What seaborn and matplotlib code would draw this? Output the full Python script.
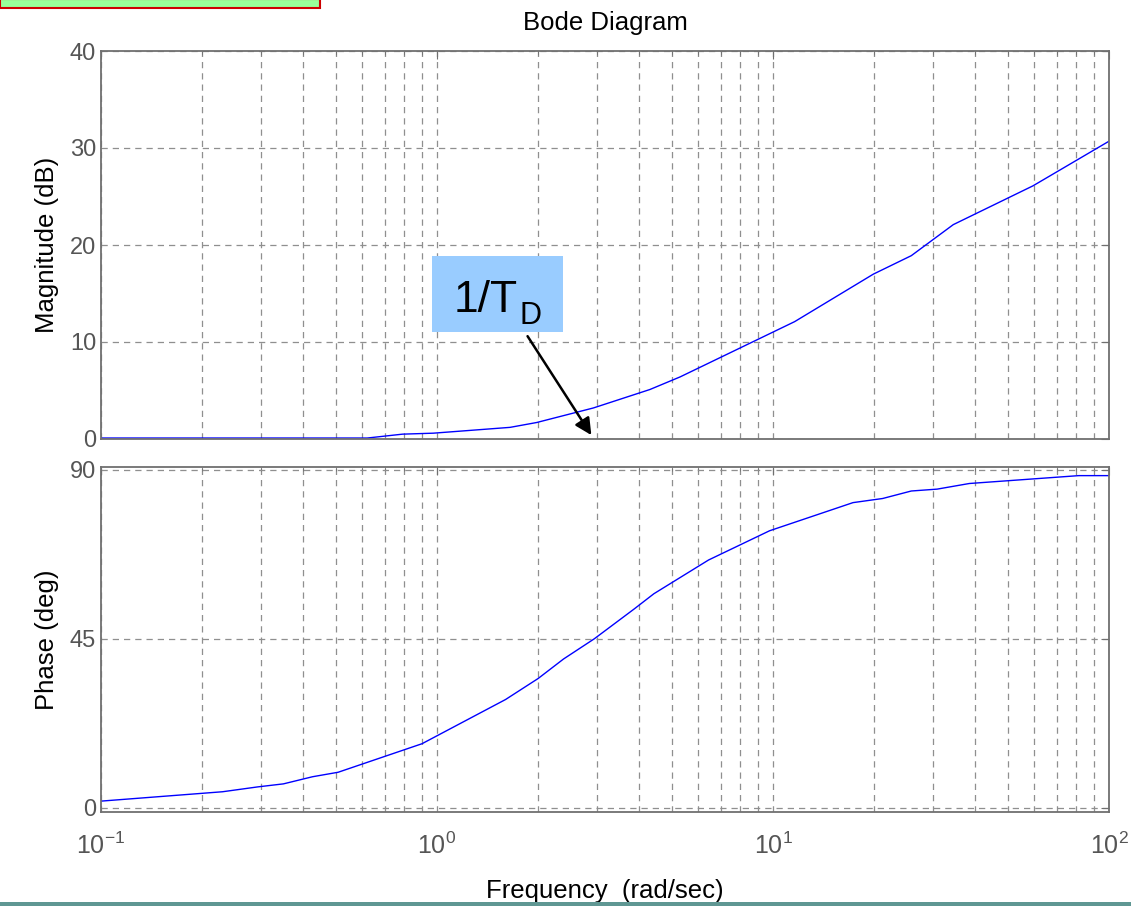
import numpy as np
import pandas as pd
import matplotlib
matplotlib.use("Agg")
import matplotlib.pyplot as plt
import seaborn as sns
from matplotlib.ticker import LogLocator, FixedLocator, NullFormatter
from matplotlib.patches import Rectangle

# ---- data ----
mag_w = [0.1, 0.62, 0.79, 0.975, 1.65, 1.98, 2.92, 4.3, 5.29, 11.6, 19.9, 25.8, 34.4, 59.4, 100.0]
mag_db = [0.1, 0.1, 0.5, 0.6, 1.2, 1.7, 3.2, 5.1, 6.4, 12.1, 17.0, 18.9, 22.1, 26.1, 30.7]
ph_w = [0.1, 0.23, 0.293, 0.349, 0.426, 0.508, 0.902, 1.60, 2.0, 2.38, 2.94, 3.87, 4.42,
        6.43, 9.77, 17.3, 21.2, 25.8, 30.8, 38.4, 81.3, 100.0]
ph_deg = [1.7, 4.2, 5.5, 6.3, 8.2, 9.4, 17.0, 28.8, 34.4, 39.6, 45.0, 53.0, 57.0,
          66.0, 73.8, 81.3, 82.4, 84.4, 84.9, 86.4, 88.5, 88.5]
mag_ticks = [0, 10, 20, 30, 40]
ph_ticks = [0, 45, 90]
x_ticks = [0.1, 1, 10, 100]
x_ticklabels = [r'$10^{-1}$', r'$10^{0}$', r'$10^{1}$', r'$10^{2}$']
title = "Bode Diagram"
xlabel = "Frequency  (rad/sec)"
label_main = "1/T"
label_sub = "D"

sns.set_style("white")
plt.rcParams['font.family'] = ['Liberation Sans', 'DejaVu Sans']
plt.rcParams['mathtext.fontset'] = 'custom'
plt.rcParams['mathtext.rm'] = 'Liberation Sans'
plt.rcParams['mathtext.it'] = 'Liberation Sans'

W, H = 1131, 906
fig = plt.figure(figsize=(W / 100, H / 100), dpi=100)

def px_axes(x0, y0, x1, y1):
    return fig.add_axes([x0 / W, 1 - y1 / H, (x1 - x0) / W, (y1 - y0) / H])

ax1 = px_axes(101, 51, 1109, 439)
ax2 = px_axes(101, 467, 1109, 812)

tick_col = '#555555'
spine_col = '#707070'
grid_col = '#8f8f8f'

df_mag = pd.DataFrame({'w': mag_w, 'v': mag_db})
df_ph = pd.DataFrame({'w': ph_w, 'v': ph_deg})
sns.lineplot(data=df_mag, x='w', y='v', ax=ax1, color='#0000ff', lw=1.0)
sns.lineplot(data=df_ph, x='w', y='v', ax=ax2, color='#0000ff', lw=1.0)

for ax in (ax1, ax2):
    ax.set_xscale('log')
    ax.set_xlim(0.1, 100)
    ax.xaxis.set_major_locator(LogLocator(base=10))
    ax.xaxis.set_minor_locator(LogLocator(base=10, subs=np.arange(2, 10)))
    ax.xaxis.set_minor_formatter(NullFormatter())
    ax.grid(True, which='both', axis='x', ls=(0, (5, 4)), color=grid_col, lw=0.9)
    ax.grid(True, which='major', axis='y', ls=(0, (5, 4)), color=grid_col, lw=0.9)
    ax.tick_params(which='both', direction='in', top=True, right=True,
                   colors=spine_col, labelcolor=tick_col, labelsize=17)
    ax.tick_params(which='major', length=6)
    ax.tick_params(which='minor', length=3)
    for s in ax.spines.values():
        s.set_visible(True)
        s.set_color(spine_col)
        s.set_linewidth(1.3)
    ax.set_xlabel('')

ax1.set_ylim(0, 40)
ax1.yaxis.set_major_locator(FixedLocator(mag_ticks))
ax1.tick_params(axis='x', which='both', labelbottom=False)
ax1.set_ylabel('Magnitude (dB)', fontsize=18.5, color='black', labelpad=8)
ax1.set_title(title, fontsize=18.5, color='black', pad=15)

ax2.set_ylim(-1.2, 90.8)
ax2.yaxis.set_major_locator(FixedLocator(ph_ticks))
ax2.set_ylabel('Phase (deg)', fontsize=18.5, color='black', labelpad=8)
ax2.set_xticks(x_ticks)
ax2.set_xticklabels(x_ticklabels, fontsize=18)
ax2.tick_params(axis='x', pad=15)
ax2.set_xlabel(xlabel, fontsize=18.5, color='black', labelpad=14)

# annotation box and arrow
fig.patches.append(Rectangle((432 / W, 1 - 332 / H), (563 - 432) / W, (332 - 256) / H,
                             transform=fig.transFigure, facecolor='#99ccff',
                             edgecolor='none', zorder=5))
fig.text(454 / W, 1 - 312 / H, label_main, fontsize=32, ha='left', va='baseline',
         color='black', zorder=6)
fig.text(520 / W, 1 - 324 / H, label_sub, fontsize=22, ha='left', va='baseline',
         color='black', zorder=6)
ax1.annotate('', xy=(2.88, 0.4), xytext=(1.86, 10.6),
             arrowprops=dict(arrowstyle='-|>', color='black', lw=1.8,
                             mutation_scale=25, shrinkA=0, shrinkB=0))

# decorative slide elements
fig.patches.append(Rectangle((0, 1 - 8 / H), 320 / W, 9 / H, transform=fig.transFigure,
                             facecolor='#99ff99', edgecolor='#cc0000', lw=1.5))
fig.patches.append(Rectangle((0, 0), 1, 4 / H, transform=fig.transFigure,
                             facecolor='#5f9793', edgecolor='none'))

fig.savefig('out.png', dpi=100)
